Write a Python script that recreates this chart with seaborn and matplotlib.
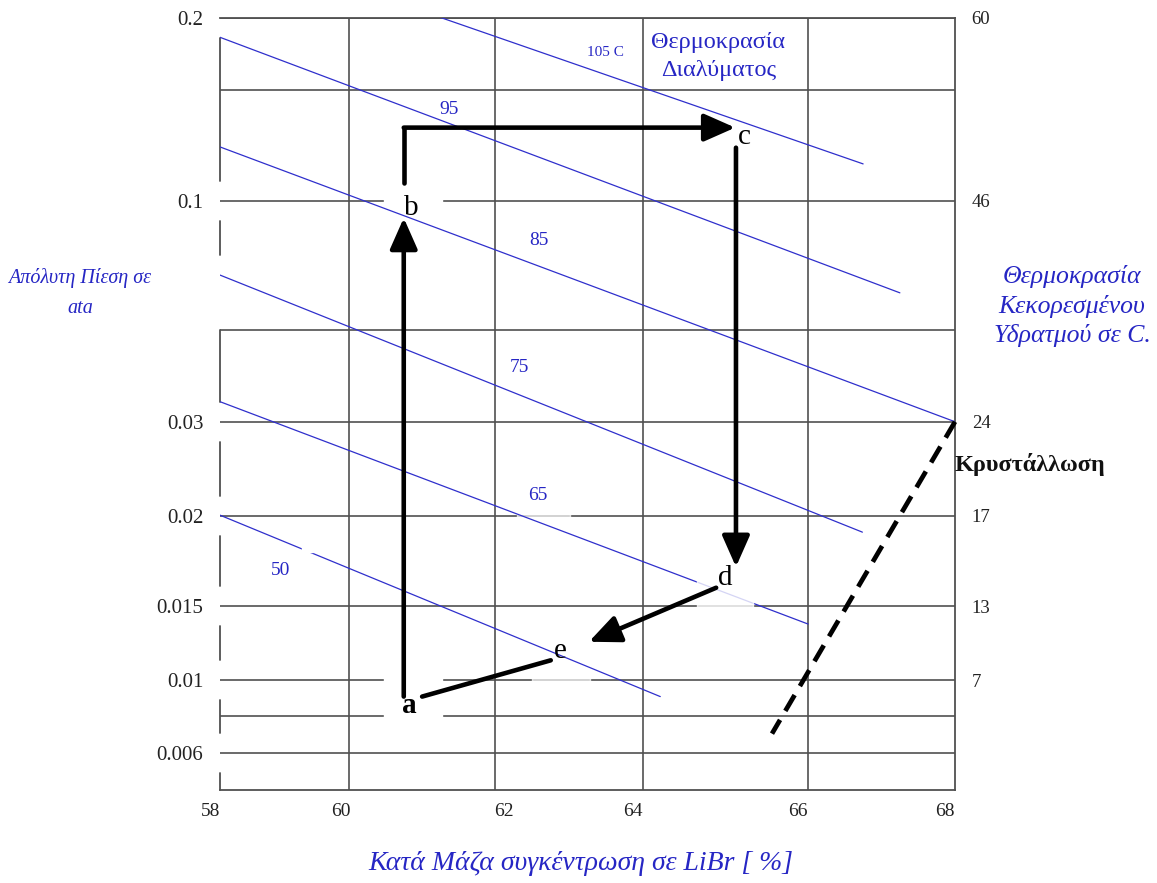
import numpy as np
import pandas as pd
import matplotlib
matplotlib.use("Agg")
import matplotlib.pyplot as plt
import seaborn as sns
from matplotlib.patches import Rectangle

# Duhring chart, LiBr solution (y axis is a
# position scale because the original grid is not a true log scale)

# left / right axis: pressure (ata) and saturation temperature (C)
pressure_labels = ["0.2", "0.1", "0.03", "0.02", "0.015", "0.01", "0.006"]
pressure_pos = [10.0, 7.63, 4.77, 3.55, 2.38, 1.42, 0.48]
sat_temp_labels = ["60", "46", "24", "17", "13", "7"]
extra_grid_y = [9.07, 5.96, 0.96]

# bottom axis: LiBr mass concentration
conc_labels = ["58", "60", "62", "64", "66", "68"]
conc_grid = [58.0, 59.76, 61.74, 63.76, 66.0, 68.0]
conc_label_pos = [58.0, 59.64, 61.86, 63.62, 65.86, 67.86]

# solution temperature lines
iso_names = ["105 C", "95", "85", "75", "65", "50"]
iso_x0 = [60.99, 58.0, 58.0, 58.0, 58.0, 58.0]
iso_y0 = [10.01, 9.75, 8.33, 6.67, 5.03, 3.56]
iso_x1 = [66.75, 67.25, 68.0, 66.74, 66.0, 63.99]
iso_y1 = [8.11, 6.44, 4.77, 3.34, 2.15, 1.21]
iso_lab_x = [63.24, 61.12, 62.34, 62.07, 62.33, 58.82]
iso_lab_y = [9.55, 8.81, 7.12, 5.47, 3.81, 2.84]

# crystallisation limit
cryst_x = [68.0, 65.51]
cryst_y = [4.77, 0.73]

# cycle a-b-c-d-e
arrow_start_x = [60.50, 60.50, 65.02, 64.75]
arrow_start_y = [1.21, 8.58, 8.32, 2.62]
arrow_end_x = [60.50, 65.01, 65.02, 63.02]
arrow_end_y = [7.41, 8.58, 2.89, 1.92]
bc_corner_x = [60.50, 60.50]
bc_corner_y = [7.86, 8.58]
ae_x = [60.75, 62.50]
ae_y = [1.21, 1.68]
point_names = ["a", "b", "c", "d", "e"]
point_x = [60.58, 60.60, 65.13, 64.88, 62.63]
point_y = [1.09, 7.54, 8.46, 2.75, 1.80]

BLUE = "#2f2fcc"
TXTBLUE = "#2626c4"
GRID = "#505050"

sns.set_theme(style="white")
plt.rcParams["font.family"] = ["Liberation Serif", "DejaVu Serif"]

fig = plt.figure(figsize=(11.57, 8.83), dpi=100)
ax = fig.add_axes([220 / 1157, 1 - 790 / 883, 735 / 1157, 772 / 883])

# solution temperature lines
rows = []
for n, x0, y0, x1, y1 in zip(iso_names, iso_x0, iso_y0, iso_x1, iso_y1):
    rows.append({"T": n, "x": x0, "y": y0})
    rows.append({"T": n, "x": x1, "y": y1})
iso_df = pd.DataFrame(rows)
sns.lineplot(data=iso_df, x="x", y="y", units="T", estimator=None, sort=False,
             color=BLUE, lw=0.9, ax=ax, zorder=3)

for s in ["top", "right", "bottom"]:
    ax.spines[s].set_color(GRID)
    ax.spines[s].set_linewidth(1.3)
ax.spines["left"].set_visible(False)

# grid
ax.hlines(pressure_pos + extra_grid_y, 58, 68, color=GRID, lw=1.2, zorder=1)
ax.vlines(conc_grid[1:-1], 0, 10, color=GRID, lw=1.2, zorder=1)

# broken left spine (white boxes behind the tick labels)
gaps = sorted([(p - 0.26, p + 0.26) for p in pressure_pos] + [(5.96, 6.93)])
lo = 0.0
for g0, g1 in gaps:
    if g0 > lo:
        ax.plot([58, 58], [lo, g0], color=GRID, lw=1.3, clip_on=False, zorder=1)
    lo = max(lo, g1)
if lo < 10:
    ax.plot([58, 58], [lo, 10], color=GRID, lw=1.3, clip_on=False, zorder=1)

# white label boxes covering the grid
ax.add_patch(Rectangle((60.23, 7.41), 0.79, 0.45, color="white", zorder=1.5))
ax.add_patch(Rectangle((60.23, 0.78), 0.79, 0.84, color="white", zorder=1.5))
ax.add_patch(Rectangle((62.25, 1.30), 0.79, 0.64, color="white", alpha=0.7, zorder=1.5))
ax.add_patch(Rectangle((62.04, 3.37), 0.72, 0.58, color="white", alpha=0.7, zorder=1.5))
ax.add_patch(Rectangle((64.49, 2.20), 0.76, 0.72, color="white", alpha=0.8, zorder=3.5))
ax.add_patch(Rectangle((59.12, 3.08), 0.14, 0.12, color="white", zorder=3.5))

for n, lx, ly in zip(iso_names, iso_lab_x, iso_lab_y):
    ax.text(lx, ly, n, color=TXTBLUE, fontsize=11 if "C" in n else 14,
            ha="center", va="center", zorder=5)

ax.text(64.78, 9.50, "Θερμοκρασία\nΔιαλύματος", color=TXTBLUE, fontsize=17.5,
        ha="center", va="center", linespacing=1.45, zorder=5)

# crystallisation line
ax.plot(cryst_x, cryst_y, color="black", lw=3.4, dashes=(3.9, 2.2),
        clip_on=False, zorder=4)
ax.text(68.0, 4.22, "Κρυστάλλωση", fontsize=17.5, fontweight="bold",
        color="#111111", ha="left", va="center", clip_on=False)

# cycle
ax.plot(bc_corner_x, bc_corner_y, color="black", lw=3.3, zorder=4,
        solid_joinstyle="miter")
ax.plot(ae_x, ae_y, color="black", lw=3.3, zorder=4)
for sx, sy, ex, ey in zip(arrow_start_x, arrow_start_y, arrow_end_x, arrow_end_y):
    ax.annotate("", xy=(ex, ey), xytext=(sx, sy), zorder=4,
                arrowprops=dict(arrowstyle="-|>,head_length=0.95,head_width=0.42",
                                lw=3.3, color="black", shrinkA=0, shrinkB=0,
                                mutation_scale=20))
for n, px, py in zip(point_names, point_x, point_y):
    ax.text(px, py, n, fontsize=21, ha="center", va="center", color="black",
            fontweight="bold" if n == "a" else "normal", zorder=6)

# ticks
ax.set_yticks(pressure_pos, pressure_labels)
ax.set_xticks(conc_label_pos, conc_labels)
ax.get_xticklabels()[0].set_horizontalalignment("right")
ax.tick_params(axis="y", length=0, pad=12, labelsize=15, labelcolor="#222222")
ax.tick_params(axis="x", length=0, pad=9, labelsize=14, labelcolor="#222222")
ax.set_xlabel("")
ax.set_ylabel("")

ax2 = ax.twinx()
ax2.set_yticks(pressure_pos[:6], sat_temp_labels)
ax2.tick_params(axis="y", length=0, pad=12, labelsize=13.5, labelcolor="#222222")
for s in ax2.spines.values():
    s.set_visible(False)

# limits last: set_xticks would otherwise widen the view
ax.set_xlim(58, 68)
ax.set_ylim(0, 10)
ax2.set_ylim(0, 10)

# axis titles
fig.text(80 / 1157, 1 - 293 / 883, "Απόλυτη Πίεση σε\nata", color=TXTBLUE,
         fontsize=14.5, style="italic", ha="center", va="center", linespacing=1.85)
fig.text(1072 / 1157, 1 - 306 / 883, "Θερμοκρασία\nΚεκορεσμένου\nΥδρατμού σε C.",
         color=TXTBLUE, fontsize=18.5, style="italic", ha="center", va="center",
         linespacing=1.35)
fig.text(581 / 1157, 1 - 864 / 883, "Κατά Μάζα συγκέντρωση σε LiBr [ %]",
         color=TXTBLUE, fontsize=20, style="italic", ha="center", va="center")

fig.savefig("out.png", dpi=100)
